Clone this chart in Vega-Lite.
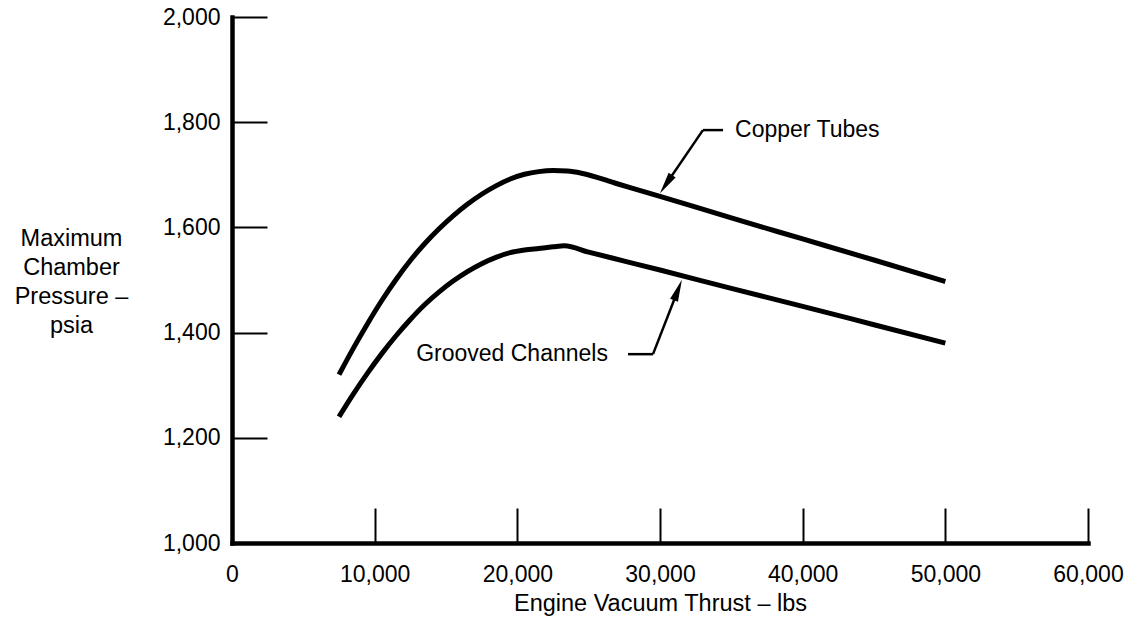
{
  "$schema": "https://vega.github.io/schema/vega-lite/v6.json",
  "width": 856,
  "height": 526,
  "autosize": {"type": "none"},
  "padding": {"left": 232, "top": 17, "right": 45, "bottom": 85},
  "background": "white",
  "config": {
    "font": "Liberation Sans",
    "view": {"stroke": null},
    "axis": {"grid": false, "domainColor": "black", "tickColor": "black", "labelColor": "black", "titleColor": "black", "labelFont": "Liberation Sans", "titleFont": "Liberation Sans", "labelFontSize": 23, "titleFontSize": 23.5, "titleFontWeight": "normal"}
  },
  "datasets": {
    "curves": [
      {"series": "Copper Tubes", "thrust": 7500, "pressure": 1320},
      {"series": "Copper Tubes", "thrust": 8500, "pressure": 1370},
      {"series": "Copper Tubes", "thrust": 9500, "pressure": 1417},
      {"series": "Copper Tubes", "thrust": 10500, "pressure": 1461},
      {"series": "Copper Tubes", "thrust": 11500, "pressure": 1501},
      {"series": "Copper Tubes", "thrust": 12500, "pressure": 1537},
      {"series": "Copper Tubes", "thrust": 13500, "pressure": 1569},
      {"series": "Copper Tubes", "thrust": 14500, "pressure": 1597},
      {"series": "Copper Tubes", "thrust": 15500, "pressure": 1622},
      {"series": "Copper Tubes", "thrust": 16500, "pressure": 1644},
      {"series": "Copper Tubes", "thrust": 17500, "pressure": 1663},
      {"series": "Copper Tubes", "thrust": 18500, "pressure": 1679},
      {"series": "Copper Tubes", "thrust": 19500, "pressure": 1692},
      {"series": "Copper Tubes", "thrust": 20500, "pressure": 1701},
      {"series": "Copper Tubes", "thrust": 21500, "pressure": 1706},
      {"series": "Copper Tubes", "thrust": 22500, "pressure": 1708},
      {"series": "Copper Tubes", "thrust": 23500, "pressure": 1707},
      {"series": "Copper Tubes", "thrust": 24500, "pressure": 1703},
      {"series": "Copper Tubes", "thrust": 27000, "pressure": 1683},
      {"series": "Copper Tubes", "thrust": 30000, "pressure": 1659},
      {"series": "Copper Tubes", "thrust": 35000, "pressure": 1618},
      {"series": "Copper Tubes", "thrust": 40000, "pressure": 1578},
      {"series": "Copper Tubes", "thrust": 45000, "pressure": 1538},
      {"series": "Copper Tubes", "thrust": 50000, "pressure": 1497},
      {"series": "Grooved Channels", "thrust": 7500, "pressure": 1240},
      {"series": "Grooved Channels", "thrust": 8500, "pressure": 1283},
      {"series": "Grooved Channels", "thrust": 9500, "pressure": 1323},
      {"series": "Grooved Channels", "thrust": 10500, "pressure": 1360},
      {"series": "Grooved Channels", "thrust": 11500, "pressure": 1394},
      {"series": "Grooved Channels", "thrust": 12500, "pressure": 1425},
      {"series": "Grooved Channels", "thrust": 13500, "pressure": 1453},
      {"series": "Grooved Channels", "thrust": 14500, "pressure": 1477},
      {"series": "Grooved Channels", "thrust": 15500, "pressure": 1498},
      {"series": "Grooved Channels", "thrust": 16500, "pressure": 1516},
      {"series": "Grooved Channels", "thrust": 17500, "pressure": 1531},
      {"series": "Grooved Channels", "thrust": 18500, "pressure": 1543},
      {"series": "Grooved Channels", "thrust": 19500, "pressure": 1552},
      {"series": "Grooved Channels", "thrust": 20500, "pressure": 1557},
      {"series": "Grooved Channels", "thrust": 21500, "pressure": 1560},
      {"series": "Grooved Channels", "thrust": 22500, "pressure": 1563},
      {"series": "Grooved Channels", "thrust": 23300, "pressure": 1565},
      {"series": "Grooved Channels", "thrust": 25000, "pressure": 1553},
      {"series": "Grooved Channels", "thrust": 27500, "pressure": 1536},
      {"series": "Grooved Channels", "thrust": 30000, "pressure": 1519},
      {"series": "Grooved Channels", "thrust": 35000, "pressure": 1484},
      {"series": "Grooved Channels", "thrust": 40000, "pressure": 1450},
      {"series": "Grooved Channels", "thrust": 45000, "pressure": 1415},
      {"series": "Grooved Channels", "thrust": 50000, "pressure": 1380}
    ],
    "leaders": [
      {"x": 33010, "y": 1785, "x2": 34420, "y2": 1785},
      {"x": 33010, "y": 1785, "x2": 30420, "y2": 1682},
      {"x": 27760, "y": 1359, "x2": 29510, "y2": 1359},
      {"x": 29510, "y": 1359, "x2": 31260, "y2": 1481}
    ],
    "heads": [
      {"series": "Copper Tubes", "x": 30420, "y": 1682},
      {"series": "Grooved Channels", "x": 31260, "y": 1481}
    ],
    "labels": [
      {"series": "Copper Tubes", "x": 35260, "y": 1785},
      {"series": "Grooved Channels", "x": 26350, "y": 1359}
    ]
  },
  "layer": [
    {
      "data": {"name": "curves"},
      "mark": {"type": "line", "color": "black", "strokeWidth": 5, "interpolate": "monotone", "strokeCap": "butt"},
      "encoding": {
        "x": {"field": "thrust", "type": "quantitative",
          "scale": {"domain": [0, 60000], "nice": false, "zero": false},
          "axis": {"values": [0, 10000, 20000, 30000, 40000, 50000, 60000], "format": ",d", "tickSize": -35, "tickWidth": 2, "domainWidth": 4.5, "domainCap": "square", "labelPadding": 66, "labelBaseline": "middle", "labelFlush": false, "labelOverlap": false,
            "title": "Engine Vacuum Thrust \u2013 lbs", "titleX": 428, "titleY": 60, "titleAlign": "center", "titleBaseline": "middle"}},
        "y": {"field": "pressure", "type": "quantitative",
          "scale": {"domain": [1000, 2000], "nice": false, "zero": false},
          "axis": {"values": [1000, 1200, 1400, 1600, 1800, 2000], "format": ",d", "tickSize": -35, "tickWidth": 2, "domainWidth": 4.5, "domainCap": "square", "labelPadding": 47, "labelFlush": false, "labelOverlap": false,
            "title": ["Maximum", "Chamber", "Pressure \u2013", "psia"], "titleAngle": 0, "titleX": -161, "titleY": 221, "titleAlign": "center", "titleBaseline": "middle", "titleLineHeight": 29}},
        "detail": {"field": "series", "type": "nominal"}
      }
    },
    {
      "data": {"name": "leaders"},
      "mark": {"type": "rule", "color": "black", "strokeWidth": 2.5},
      "encoding": {
        "x": {"field": "x", "type": "quantitative"},
        "y": {"field": "y", "type": "quantitative"},
        "x2": {"field": "x2"},
        "y2": {"field": "y2"}
      }
    },
    {
      "data": {"name": "heads"},
      "transform": [{"filter": "datum.series === 'Copper Tubes'"}],
      "mark": {"type": "point", "shape": "M0,-1L0.38,1L-0.38,1Z", "filled": true, "color": "black", "opacity": 1, "size": 484, "angle": 214},
      "encoding": {
        "x": {"field": "x", "type": "quantitative"},
        "y": {"field": "y", "type": "quantitative"}
      }
    },
    {
      "data": {"name": "heads"},
      "transform": [{"filter": "datum.series === 'Grooved Channels'"}],
      "mark": {"type": "point", "shape": "M0,-1L0.38,1L-0.38,1Z", "filled": true, "color": "black", "opacity": 1, "size": 484, "angle": 21},
      "encoding": {
        "x": {"field": "x", "type": "quantitative"},
        "y": {"field": "y", "type": "quantitative"}
      }
    },
    {
      "data": {"name": "labels"},
      "transform": [{"filter": "datum.series === 'Copper Tubes'"}],
      "mark": {"type": "text", "align": "left", "baseline": "middle", "fontSize": 23, "color": "black"},
      "encoding": {
        "x": {"field": "x", "type": "quantitative"},
        "y": {"field": "y", "type": "quantitative"},
        "text": {"field": "series"}
      }
    },
    {
      "data": {"name": "labels"},
      "transform": [{"filter": "datum.series === 'Grooved Channels'"}],
      "mark": {"type": "text", "align": "right", "baseline": "middle", "fontSize": 23, "color": "black"},
      "encoding": {
        "x": {"field": "x", "type": "quantitative"},
        "y": {"field": "y", "type": "quantitative"},
        "text": {"field": "series"}
      }
    }
  ]
}
